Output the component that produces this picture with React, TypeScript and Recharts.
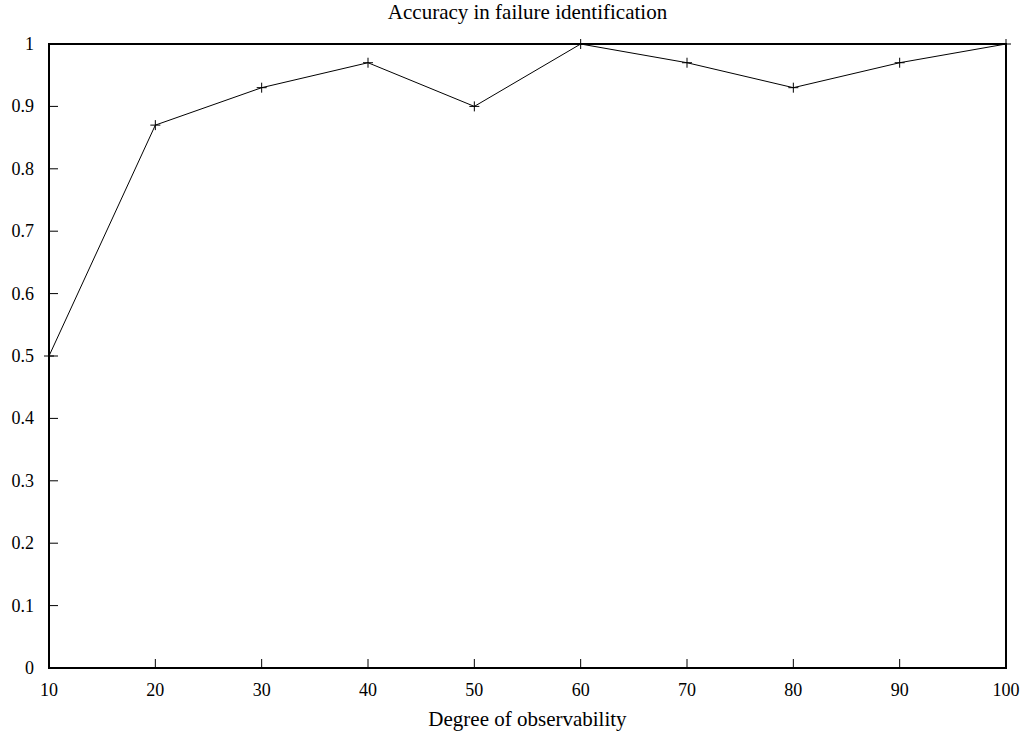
import { LineChart, Line, XAxis, YAxis, ReferenceArea } from 'recharts';

const observability = [10, 20, 30, 40, 50, 60, 70, 80, 90, 100];
const accuracy = [0.5, 0.87, 0.93, 0.97, 0.9, 1.0, 0.97, 0.93, 0.97, 1.0];
const xTicks = [10, 20, 30, 40, 50, 60, 70, 80, 90, 100];
const yTicks = [0, 0.1, 0.2, 0.3, 0.4, 0.5, 0.6, 0.7, 0.8, 0.9, 1];

const data = observability.map((x, i) => ({ x, acc: accuracy[i] }));

const FONT = '"Liberation Serif", "DejaVu Serif", serif';
const TICK_LEN = 9;
const Y_MARGIN = 15;
const X_MARGIN = 12;

const LeftTick = ({ x, y, payload }: any) => (
    <g>
        <line x1={x + Y_MARGIN} x2={x + Y_MARGIN + TICK_LEN} y1={y} y2={y} stroke='#000' strokeWidth={1} />
        <text x={x} y={y} dy={6} textAnchor='end' fontFamily={FONT} fontSize={18} fill='#000'>
            {payload.value}
        </text>
    </g>
);

const RightTick = ({ x, y }: any) => (
    <line x1={x - Y_MARGIN} x2={x - Y_MARGIN - TICK_LEN} y1={y} y2={y} stroke='#000' strokeWidth={1} />
);

const BottomTick = ({ x, y, payload }: any) => (
    <g>
        <line x1={x} x2={x} y1={y - X_MARGIN} y2={y - X_MARGIN - TICK_LEN} stroke='#000' strokeWidth={1} />
        <text x={x} y={y} dy={16} textAnchor='middle' fontFamily={FONT} fontSize={18} fill='#000'>
            {payload.value}
        </text>
    </g>
);

const PlusDot = ({ cx, cy }: any) => {
    if (cx == null || cy == null) return null;
    return (
        <g>
            <line x1={cx - 5} x2={cx + 5} y1={cy} y2={cy} stroke='#000' strokeWidth={1} />
            <line x1={cx} x2={cx} y1={cy - 5} y2={cy + 5} stroke='#000' strokeWidth={1} />
        </g>
    );
};

const textStyle = {
    position: 'absolute' as const, left: 49, width: 957, textAlign: 'center' as const,
    fontFamily: FONT, fontSize: 21, lineHeight: '21px', color: '#000', whiteSpace: 'nowrap' as const
};

const App = () => {
    return (
        <div style={{ position: 'absolute', left: 0, top: 0, width: 1029, height: 735, background: '#fff' }}>
            <LineChart width={1029} height={735} data={data} margin={{ top: 44, right: 22, left: 0, bottom: 0 }}>
                <XAxis
                    xAxisId='bottom'
                    dataKey='x'
                    type='number'
                    domain={[10, 100]}
                    ticks={xTicks}
                    interval={0}
                    height={67}
                    tickLine={false}
                    tickSize={0}
                    tickMargin={X_MARGIN}
                    axisLine={{ stroke: '#000', strokeWidth: 2 }}
                    tick={<BottomTick />}
                />
                <YAxis
                    yAxisId='left'
                    type='number'
                    domain={[0, 1]}
                    ticks={yTicks}
                    interval={0}
                    width={49}
                    tickLine={false}
                    tickSize={0}
                    tickMargin={Y_MARGIN}
                    axisLine={{ stroke: '#000', strokeWidth: 2 }}
                    tick={<LeftTick />}
                />
                <YAxis
                    yAxisId='right'
                    orientation='right'
                    type='number'
                    domain={[0, 1]}
                    ticks={yTicks}
                    interval={0}
                    width={1}
                    tickLine={false}
                    tickSize={0}
                    tickMargin={Y_MARGIN}
                    axisLine={false}
                    tick={<RightTick />}
                />
                <ReferenceArea
                    xAxisId='bottom'
                    yAxisId='left'
                    x1={10}
                    x2={100}
                    y1={0}
                    y2={1}
                    fill='none'
                    fillOpacity={0}
                    stroke='#000'
                    strokeWidth={2}
                    ifOverflow='visible'
                />
                <Line
                    xAxisId='bottom'
                    yAxisId='left'
                    type='linear'
                    dataKey='acc'
                    stroke='#000'
                    strokeWidth={1}
                    dot={<PlusDot />}
                    activeDot={false}
                    isAnimationActive={false}
                />
            </LineChart>
            <div style={{ ...textStyle, top: 2 }}>Accuracy in failure identification</div>
            <div style={{ ...textStyle, top: 709 }}>Degree of observability</div>
        </div>
    );
};

export default App;
